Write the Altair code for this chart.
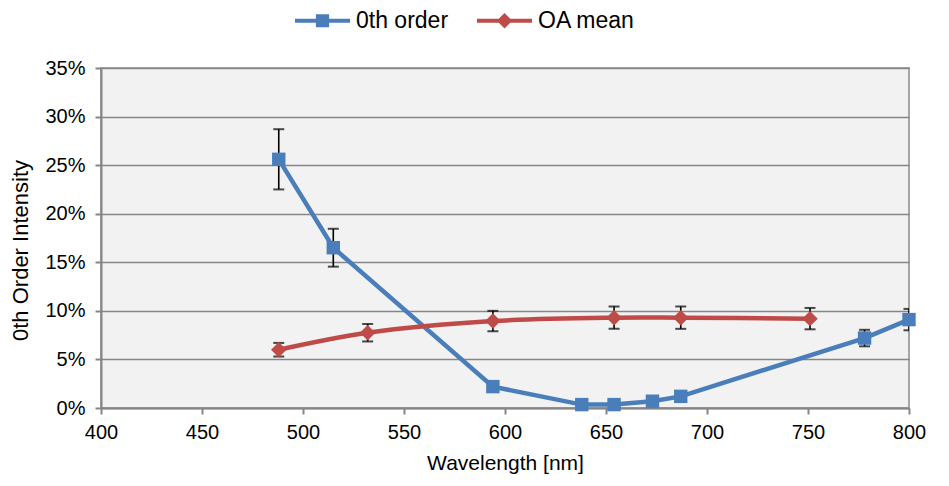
import altair as alt
import pandas as pd

series_names = ["0th order", "OA mean"]
series_colors = ["#4a7ebb", "#be4b48"]

wl_0th = [488, 515, 594, 638, 654, 673, 687, 778, 800]
val_0th = [25.6, 16.5, 2.2, 0.35, 0.35, 0.7, 1.2, 7.2, 9.1]
err_0th = [3.1, 1.95, 0, 0, 0, 0, 0, 0.85, 1.1]

wl_oa = [488, 532, 594, 654, 687, 751]
val_oa = [6.0, 7.75, 8.95, 9.3, 9.3, 9.2]
err_oa = [0.7, 0.9, 1.05, 1.15, 1.15, 1.1]

x_ticks = [400, 450, 500, 550, 600, 650, 700, 750, 800]
y_ticks = [0, 0.05, 0.10, 0.15, 0.20, 0.25, 0.30, 0.35]


def frame(name, wl, val, err):
    return pd.DataFrame({
        "series": name,
        "wl": wl,
        "v": [a / 100 for a in val],
        "lo": [(a - e) / 100 for a, e in zip(val, err)],
        "hi": [(a + e) / 100 for a, e in zip(val, err)],
        "err": err,
    })


d0 = frame(series_names[0], wl_0th, val_0th, err_0th)
d1 = frame(series_names[1], wl_oa, val_oa, err_oa)
dall = pd.concat([d0, d1], ignore_index=True)
derr = dall[dall["err"] > 0]

FONT = "Liberation Sans"

xenc = alt.X("wl:Q", scale=alt.Scale(domain=[400, 800], nice=False),
             axis=alt.Axis(values=x_ticks, title="Wavelength [nm]", grid=False, labelFlush=False,
                           labelPadding=8, titlePadding=10, titleFontSize=21))
yenc = alt.Y("v:Q", scale=alt.Scale(domain=[0, 0.35], nice=False),
             axis=alt.Axis(values=y_ticks, format=".0%", title="0th Order Intensity",
                           grid=True, labelFlush=False, labelPadding=10, titlePadding=12,
                           titleFontSize=22, titleY=182))

line0 = alt.Chart(d0).mark_line(color=series_colors[0], strokeWidth=4.5).encode(x=xenc, y=yenc)
line1 = alt.Chart(d1).mark_line(color=series_colors[1], strokeWidth=4.5,
                                interpolate="catmull-rom").encode(x="wl:Q", y="v:Q")

err_rule = alt.Chart(derr).mark_rule(color="black", strokeWidth=1.6, clip=True).encode(
    x="wl:Q", y="lo:Q", y2="hi:Q")
cap_lo = alt.Chart(derr).mark_tick(color="black", orient="horizontal", size=11,
                                   thickness=2, clip=True).encode(x="wl:Q", y="lo:Q")
cap_hi = alt.Chart(derr).mark_tick(color="black", orient="horizontal", size=11,
                                   thickness=2, clip=True).encode(x="wl:Q", y="hi:Q")

pts0 = alt.Chart(d0).mark_point(shape="square", filled=True, opacity=1,
                                color=series_colors[0], size=180).encode(x="wl:Q", y="v:Q")
pts1 = alt.Chart(d1).mark_point(shape="diamond", filled=True, opacity=1,
                                color=series_colors[1], size=240).encode(x="wl:Q", y="v:Q")

path_sq = "M-2.5,-0.18H2.5V0.18H-2.5Z M-0.6,-0.6H0.6V0.6H-0.6Z"
path_di = "M-2.5,-0.18H2.5V0.18H-2.5Z M0,-0.7L0.7,0L0,0.7L-0.7,0Z"

leg = alt.Legend(orient="none", legendX=210, legendY=-59, direction="horizontal",
                 title=None, labelFont=FONT, labelFontSize=23, labelColor="black",
                 symbolSize=484, symbolOpacity=1, symbolStrokeWidth=0,
                 labelOffset=22, columnPadding=28, padding=0)

legend_layer = alt.Chart(dall).mark_point(filled=True, opacity=0).encode(
    x="wl:Q", y="v:Q",
    color=alt.Color("series:N", scale=alt.Scale(domain=series_names, range=series_colors), legend=leg),
    shape=alt.Shape("series:N", scale=alt.Scale(domain=series_names, range=[path_sq, path_di]), legend=leg),
)

chart = alt.layer(line0, line1, err_rule, cap_lo, cap_hi, pts0, pts1, legend_layer).properties(
    width=808, height=340,
    background="white",
    autosize=alt.AutoSizeParams(type="none"),
    padding={"left": 93, "top": 60, "right": 32, "bottom": 70},
).configure_view(
    fill="#f2f2f2", stroke="#a6a6a6", strokeWidth=2
).configure_axis(
    domainColor="#868686", domainWidth=2, tickColor="#868686", tickWidth=2, tickSize=6,
    gridColor="#868686", gridWidth=1.5, gridOpacity=1,
    labelFont=FONT, labelFontSize=20, labelColor="black",
    titleFont=FONT, titleFontSize=20, titleFontWeight="normal", titleColor="black",
)

chart.save("out.html", embed_options={"renderer": "svg", "actions": False})
